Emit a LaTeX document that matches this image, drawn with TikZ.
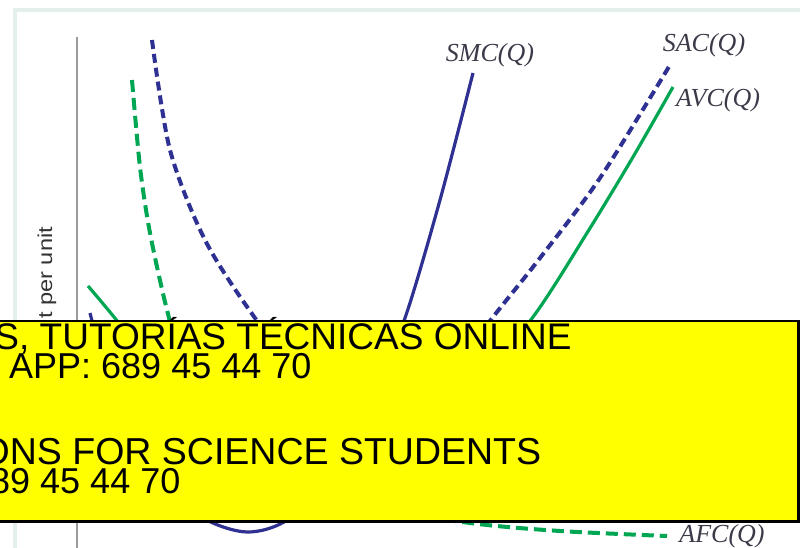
\documentclass[tikz,border=0pt]{standalone}
\usepackage{fontspec}
\setmainfont{Liberation Serif}
\setsansfont{Liberation Sans}
\newfontfamily\widesans{Liberation Sans}[FakeStretch=1.18]
\usetikzlibrary{positioning}
\definecolor{costblue}{HTML}{2E3192}
\definecolor{costgreen}{HTML}{00A651}
\definecolor{framemint}{HTML}{E2EFEB}
\definecolor{axisgray}{HTML}{9B9B9B}
\definecolor{labelgray}{HTML}{3A3A48}
\definecolor{bannerfill}{HTML}{FFFF00}

\begin{document}
\begin{tikzpicture}[x=1pt, y=-1pt,
  curve/.style={line width=3.2pt},
  bluedash/.style={costblue, line width=4pt, dash pattern=on 9pt off 5pt},
  greendash/.style={costgreen, line width=4pt, dash pattern=on 12pt off 6pt},
  curvelabel/.style={font=\fontsize{26}{26}\selectfont\itshape, text=labelgray, inner sep=0pt},
  banner/.style={font=\sffamily\fontsize{36}{36}\selectfont, anchor=base west, inner sep=0pt}]
  \useasboundingbox (0,0) rectangle (800,548);
  \clip (0,0) rectangle (800,548);

  % Frame and axis
  \draw[framemint, line width=4pt] (15,548) -- (15,10) -- (800,10);
  \draw[axisgray, line width=2.5pt] (77,37) -- (77,548);
  \node (ylabel) [rotate=90, anchor=base west, inner sep=0pt,
    font=\widesans\fontsize{20}{20}\selectfont, text=black!80] at (52,319) {t per unit};

  % Curves
  \draw[costblue, curve] plot[smooth] coordinates {(90,313) (115,400) (150,468) (200,516)
    (247,532) (290,518) (335,465) (375,385) (405,318) (440,200) (473,73)};
  \draw[bluedash] plot[smooth] coordinates {(152,40) (170,150) (205,240) (255,318)
    (320,400) (380,420) (440,385) (493,317) (540,258) (600,178) (670,65)};
  \draw[costgreen, curve] plot[smooth] coordinates {(88,286) (118,322) (170,390) (240,450)
    (320,470) (400,440) (470,390) (533,317) (587,233) (633,157) (673,87)};
  \draw[greendash] plot[smooth] coordinates {(132,80) (140,167) (150,233) (167,310) (185,370)
    (220,430) (280,475) (360,505) (470,523) (560,531) (667,536)};

  % Box
  \draw[black, line width=2.5pt, fill=bannerfill] (-5,321) rectangle (798.7,521.5);
  \node (line1) [banner, font=\sffamily\fontsize{37}{37}\selectfont] at (-5.7,349) {S, TUTORÍAS TÉCNICAS ONLINE};
  \node (line2) [banner] at (9,378) {APP: 689 45 44 70};
  \node (line3) [banner, font=\sffamily\fontsize{37.5}{37.5}\selectfont] at (-19.5,464) {ONS FOR SCIENCE STUDENTS};
  \node (line4) [banner] at (-10,493) {89 45 44 70};

  % Labels
  \node (smclabel) [curvelabel] at (490,55) {SMC(Q)};
  \node (saclabel) [curvelabel] at (704,45) {SAC(Q)};
  \node (avclabel) [curvelabel] at (718,100) {AVC(Q)};
  \node (afclabel) [curvelabel] at (722,536) {AFC(Q)};
\end{tikzpicture}
\end{document}
